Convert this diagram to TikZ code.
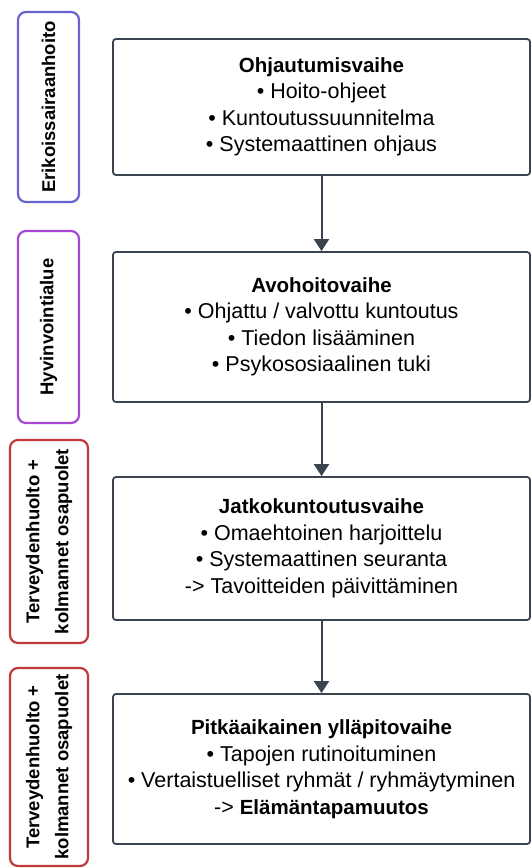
\documentclass[tikz,border=0pt]{standalone}
\usepackage{fontspec}
\setmainfont{Liberation Sans}
\usetikzlibrary{positioning,arrows.meta}
\definecolor{linegray}{HTML}{3B4350}
\definecolor{erikblue}{HTML}{6A62D0}
\definecolor{hyvpurple}{HTML}{A647D6}
\definecolor{tervred}{HTML}{C0393B}
\newcommand{\stagebold}[1]{{\fontsize{20.5}{26.5}\selectfont\bfseries #1}}
\begin{document}
\begin{tikzpicture}[x=1pt,y=-1pt,
  stage/.style={draw=linegray, line width=1.8pt, rounded corners=3pt, fill=white, minimum width=417pt, align=center, font=\fontsize{21.5}{26.5}\selectfont},
  sector/.style={line width=2.2pt, rounded corners=8pt, rotate=90, align=center, inner sep=0pt, font=\bfseries\fontsize{18.5}{29}\selectfont},
  flow/.style={draw=linegray, line width=2pt, -{Triangle[length=12pt,width=15pt]}}]
\useasboundingbox[fill=white] (0,0) rectangle (531,868);
% sektorit
\node[sector, draw=erikblue, minimum width=190pt, minimum height=61pt] (erik) at (48.5,107) {Erikoissairaanhoito};
\node[sector, draw=hyvpurple, minimum width=192pt, minimum height=61pt] (hyv) at (48.5,327) {Hyvinvointialue};
\node[sector, draw=tervred, minimum width=203pt, minimum height=78pt] (terv1) at (49,541.5) {Terveydenhuolto +\\kolmannet osapuolet};
\node[sector, draw=tervred, minimum width=198pt, minimum height=78pt] (terv2) at (49,767) {Terveydenhuolto +\\kolmannet osapuolet};
% vaiheet
\node[stage, minimum height=136pt] (ohjaus) at (321.5,107) {\stagebold{Ohjautumisvaihe}\\• Hoito-ohjeet\\• Kuntoutussuunnitelma\\• Systemaattinen ohjaus};
\node[stage, minimum height=150pt] (avo) at (321.5,327) {\stagebold{Avohoitovaihe}\\• Ohjattu / valvottu kuntoutus\\• Tiedon lisääminen\\• Psykososiaalinen tuki};
\node[stage, minimum height=143pt] (jatko) at (321.5,548.5) {\stagebold{Jatkokuntoutusvaihe}\\• Omaehtoinen harjoittelu\\• Systemaattinen seuranta\\-> Tavoitteiden päivittäminen};
\node[stage, minimum height=150pt] (yllapito) at (321.5,769) {\stagebold{Pitkäaikainen ylläpitovaihe}\\• Tapojen rutinoituminen\\• Vertaistuelliset ryhmät / ryhmäytyminen\\-> \stagebold{Elämäntapamuutos}};
\draw[flow] (ohjaus) -- (avo);
\draw[flow] (avo) -- (jatko);
\draw[flow] (jatko) -- (yllapito);
\end{tikzpicture}
\end{document}
